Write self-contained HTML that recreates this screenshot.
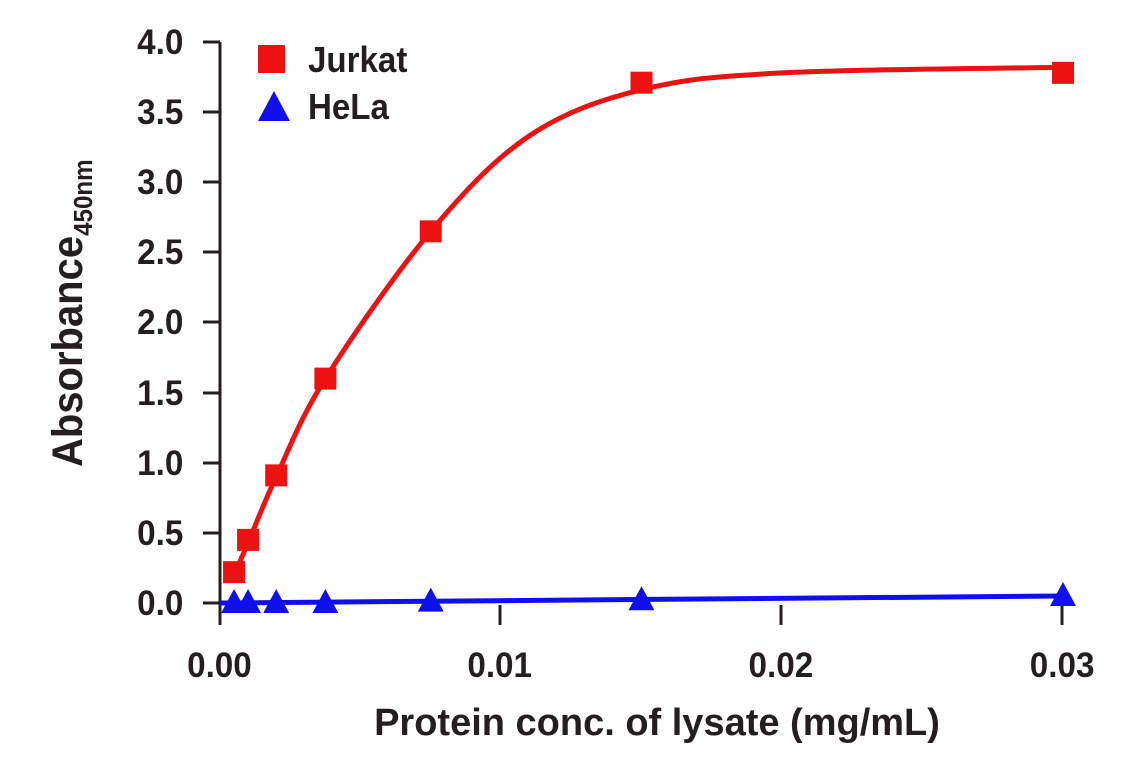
<!DOCTYPE html>
<html><head><style>body{margin:0;background:#fff}svg{display:block}text{font-family:"Liberation Sans",sans-serif;fill:#231f20}</style></head>
<body>
<svg id="s" width="1141" height="768" viewBox="0 0 1141 768">
<g stroke="#231f20" stroke-width="3" fill="none">
<line x1="220" y1="42" x2="220" y2="625"/>
<line x1="203" y1="42" x2="220" y2="42"/><line x1="203" y1="112" x2="220" y2="112"/><line x1="203" y1="182" x2="220" y2="182"/><line x1="203" y1="252" x2="220" y2="252"/><line x1="203" y1="322" x2="220" y2="322"/><line x1="203" y1="393" x2="220" y2="393"/><line x1="203" y1="463" x2="220" y2="463"/><line x1="203" y1="533" x2="220" y2="533"/><line x1="203" y1="603" x2="220" y2="603"/>
<line x1="500" y1="605" x2="500" y2="625"/><line x1="781" y1="605" x2="781" y2="625"/><line x1="1062" y1="605" x2="1062" y2="625"/>
</g>
<g font-size="35" text-anchor="end" font-weight="bold" transform="scale(0.95,1)">
<text x="193" y="54">4.0</text><text x="193" y="124">3.5</text><text x="193" y="194">3.0</text><text x="193" y="264">2.5</text><text x="193" y="334">2.0</text><text x="193" y="405">1.5</text><text x="193" y="475">1.0</text><text x="193" y="545">0.5</text><text x="193" y="615">0.0</text>
</g>
<g font-size="35" text-anchor="middle" font-weight="bold" transform="scale(0.95,1)">
<text x="231" y="677">0.00</text><text x="526" y="677">0.01</text><text x="822" y="677">0.02</text><text x="1118" y="677">0.03</text>
</g>
<text x="657" y="735" font-size="38" font-weight="bold" text-anchor="middle">Protein conc. of lysate (mg/mL)</text>
<text transform="translate(82,467) rotate(-90) scale(0.93,1)" font-size="43" font-weight="bold">Absorbance<tspan font-size="26" dy="10">450nm</tspan></text>
<rect x="258" y="45" width="27" height="28" fill="#ed1212"/>
<polygon points="258,121 290,121 274,91" fill="#1010ee"/>
<text x="308" y="72" font-size="36" font-weight="bold" transform="scale(0.92,1)" style="transform-origin:308px 0">Jurkat</text>
<text x="308" y="119" font-size="36" font-weight="bold" transform="scale(0.92,1)" style="transform-origin:308px 0">HeLa</text>
<path id="c" fill="none" stroke="#ed1212" stroke-width="5"/>
<line x1="220" y1="603" x2="1062" y2="596" stroke="#1010ee" stroke-width="5"/>
<g id="pts"></g>
</svg>
<script>
var X=function(v){return 220+v*28100},Y=function(v){return 603-v*140.25};
var K=[[0.0005,0.2],[0.001,0.43],[0.002,0.9],[0.00375,1.6],[0.0075,2.65],[0.011,3.33],[0.015,3.66],[0.02,3.78],[0.03,3.82]];
var P=K.map(function(p){return [X(p[0]),Y(p[1])]});
var d="M"+P[0][0]+","+P[0][1];
for(var i=0;i<P.length-1;i++){var p0=P[i-1]||P[i],p1=P[i],p2=P[i+1],p3=P[i+2]||P[i+1];
var t=6;d+="C"+(p1[0]+(p2[0]-p0[0])/t).toFixed(1)+","+(p1[1]+(p2[1]-p0[1])/t).toFixed(1)+" "+(p2[0]-(p3[0]-p1[0])/t).toFixed(1)+","+(p2[1]-(p3[1]-p1[1])/t).toFixed(1)+" "+p2[0].toFixed(1)+","+p2[1].toFixed(1);}
document.getElementById("c").setAttribute("d",d);
var J=[[0.0005,0.22],[0.001,0.45],[0.002,0.91],[0.00375,1.6],[0.0075,2.65],[0.015,3.71],[0.03,3.78]];
var H=[[0.0005,0],[0.001,0],[0.002,0],[0.00375,0],[0.0075,0.01],[0.015,0.02],[0.03,0.05]];
var s="";J.forEach(function(p){s+='<rect x="'+(X(p[0])-11)+'" y="'+(Y(p[1])-11)+'" width="22" height="22" fill="#ed1212"/>';});
H.forEach(function(p){var x=X(p[0]),y=Y(p[1]);s+='<polygon points="'+(x-13)+','+(y+10)+' '+(x+13)+','+(y+10)+' '+x+','+(y-14)+'" fill="#1010ee"/>';});
document.getElementById("pts").innerHTML=s;
</script>
</body></html>
